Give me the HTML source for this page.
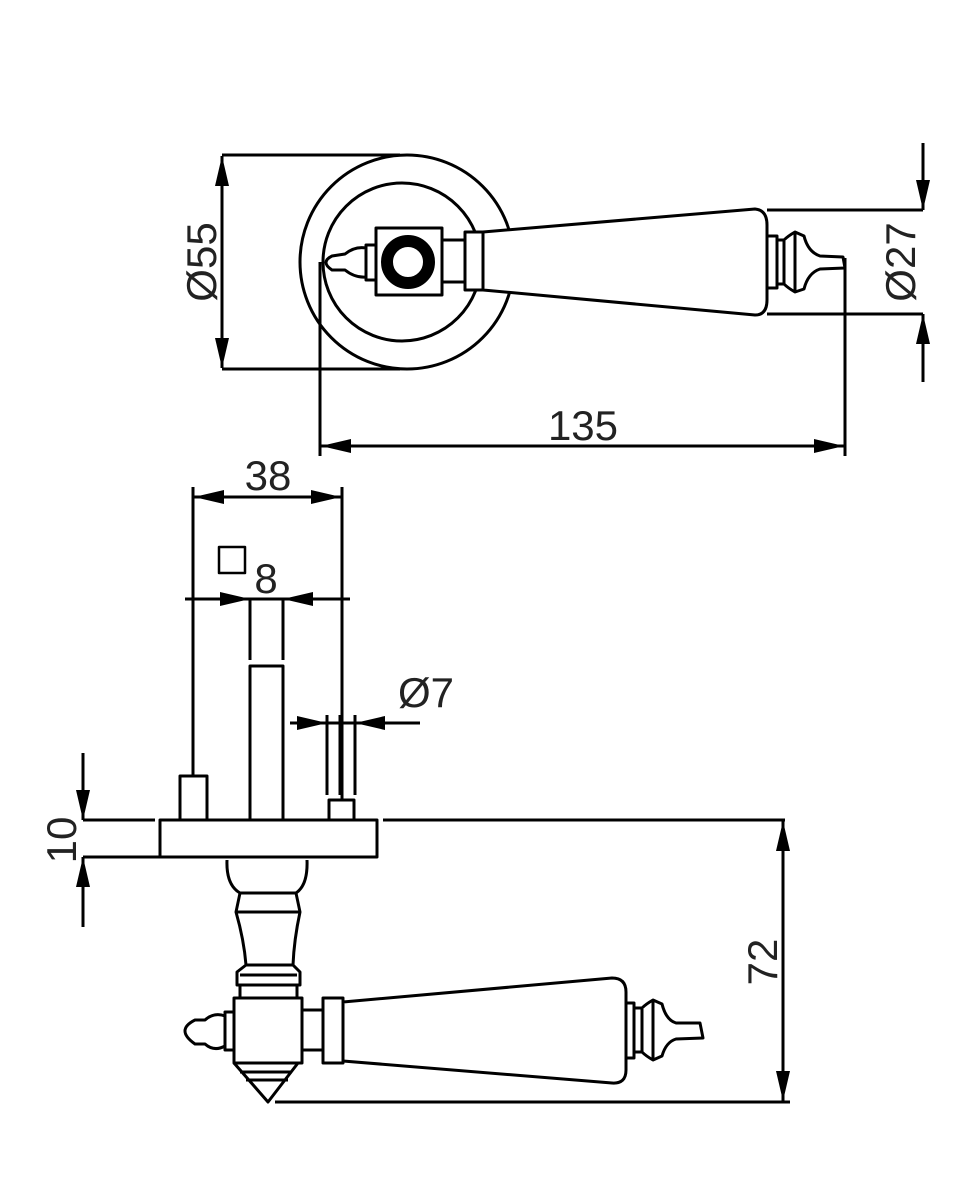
<!DOCTYPE html>
<html><head><meta charset="utf-8"><style>
html,body{margin:0;padding:0;background:#fff;}
svg{display:block;}
text{font-family:"Liberation Sans",sans-serif;fill:#222;}
</style></head><body>
<svg width="976" height="1200" viewBox="0 0 976 1200" xmlns="http://www.w3.org/2000/svg">
<defs>
<marker id="a" viewBox="0 0 30 14" refX="30" refY="7" markerWidth="30" markerHeight="14" markerUnits="userSpaceOnUse" orient="auto"><path d="M0,0 L30,7 L0,14 Z" fill="#000"/></marker>
</defs>
<g fill="none" stroke="#000" stroke-width="3" stroke-linejoin="round">
<!-- TOP VIEW -->
<circle cx="407" cy="262" r="107" fill="#fff"/>
<circle cx="402" cy="262" r="79"/>
<path d="M483,232 L755,209 Q767,210 767,225 L767,300 Q767,315 755,315 L483,290 Z" fill="#fff"/>
<rect x="465" y="232" width="18" height="58" fill="#fff"/>
<rect x="442" y="240" width="23" height="42" fill="#fff"/>
<path d="M767,236 L777,236 L777,288 L767,288 M777,240 L784,240 Q788,236 795,232 L804,236 Q808,252 820,256 L843,257 L845,268 L820,269 Q808,273 804,289 L795,292 Q788,288 784,284 L777,284 M784,240 V284 M795,232 V292"/>
<path d="M376,245 L366,245 L366,280 L376,280 M366,248 Q355,246 345,254 L332,256 Q320,262 332,270 L345,270 Q355,278 366,277"/>
<rect x="376" y="228" width="66" height="67" fill="#fff"/>
<circle cx="408" cy="262" r="21" stroke-width="12"/>
<path d="M222,155 H400 M222,369 H400"/>
<line x1="222" y1="262" x2="222" y2="156" marker-end="url(#a)"/>
<line x1="222" y1="262" x2="222" y2="368" marker-end="url(#a)"/>
<path d="M767,210 H923 M767,314 H923"/>
<line x1="923" y1="143" x2="923" y2="210" marker-end="url(#a)"/>
<line x1="923" y1="382" x2="923" y2="314" marker-end="url(#a)"/>
<path d="M320,262 V456 M845,258 V456"/>
<line x1="583" y1="446" x2="321" y2="446" marker-end="url(#a)"/>
<line x1="583" y1="446" x2="844" y2="446" marker-end="url(#a)"/>

<!-- BOTTOM VIEW dims -->
<path d="M193,487 V776 M342,487 V800"/>
<line x1="268" y1="497" x2="194" y2="497" marker-end="url(#a)"/>
<line x1="268" y1="497" x2="341" y2="497" marker-end="url(#a)"/>
<path d="M185,599 H350"/>
<line x1="188" y1="599" x2="250" y2="599" marker-end="url(#a)"/>
<line x1="350" y1="599" x2="283" y2="599" marker-end="url(#a)"/>
<rect x="219" y="547" width="26" height="26" stroke-width="2.5"/>
<path d="M250,599 V660 M283,599 V660"/>
<rect x="250" y="666" width="33" height="154"/>
<path d="M290,723 H420"/>
<line x1="290" y1="723" x2="327" y2="723" marker-end="url(#a)"/>
<line x1="420" y1="723" x2="355" y2="723" marker-end="url(#a)"/>
<path d="M327,715 V795 M340,715 V795 M355,715 V795"/>
<rect x="329" y="800" width="25" height="20"/>
<rect x="180" y="776" width="27" height="44"/>
<rect x="160" y="820" width="217" height="37" fill="#fff"/>
<path d="M83,820 H155 M83,857 H160 M383,820 H785 M275,1102 H790"/>
<line x1="83" y1="753" x2="83" y2="820" marker-end="url(#a)"/>
<line x1="83" y1="927" x2="83" y2="857" marker-end="url(#a)"/>
<line x1="783" y1="960" x2="783" y2="821" marker-end="url(#a)"/>
<line x1="783" y1="960" x2="783" y2="1101" marker-end="url(#a)"/>

<!-- lower handle -->
<path d="M227,860 Q226,885 240,893 L296,893 Q308,885 307,860"/>
<path d="M240,893 L236,912 L300,912 L296,893 M236,912 Q244,940 246,965 L293,965 Q294,940 300,912 M246,965 L237,972 L237,985 L300,985 L300,972 L293,965 M240,985 L240,998 M297,985 L297,998 M240,975 H297"/>
<path d="M238,912 H298"/>
<rect x="234" y="998" width="68" height="65" fill="#fff"/>
<path d="M234,1063 L268,1102 L298,1063 M240,1072 H292 M246,1080 H288"/>
<rect x="302" y="1010" width="21" height="40"/>
<rect x="323" y="998" width="20" height="65"/>
<path d="M343,1002 L612,978 Q626,978 626,992 L626,1070 Q626,1084 612,1083 L343,1061 Z" fill="#fff"/>
<path d="M626,1003 L634,1003 L634,1058 L626,1058 M634,1008 L642,1008 Q646,1004 653,1000 L662,1004 Q666,1020 676,1023 L700,1023 L703,1038 L676,1039 Q666,1042 662,1056 L653,1060 Q646,1056 642,1052 L634,1052 M642,1008 V1052 M653,1000 V1060"/>
<path d="M234,1012 L225,1012 L225,1050 L234,1050 M225,1016 Q214,1012 205,1020 L195,1020 Q175,1030 195,1044 L205,1044 Q214,1052 225,1046"/>
</g>
<text x="583" y="440" font-size="42" text-anchor="middle">135</text>
<text x="268" y="490" font-size="42" text-anchor="middle">38</text>
<text x="266" y="593" font-size="42" text-anchor="middle">8</text>
<text x="426" y="707" font-size="42" text-anchor="middle">Ø7</text>
<text transform="translate(216,262) rotate(-90)" font-size="42" text-anchor="middle">Ø55</text>
<text transform="translate(915,262) rotate(-90)" font-size="42" text-anchor="middle">Ø27</text>
<text transform="translate(76,840) rotate(-90)" font-size="42" text-anchor="middle">10</text>
<text transform="translate(777,962) rotate(-90)" font-size="42" text-anchor="middle">72</text>
</svg>
</body></html>
